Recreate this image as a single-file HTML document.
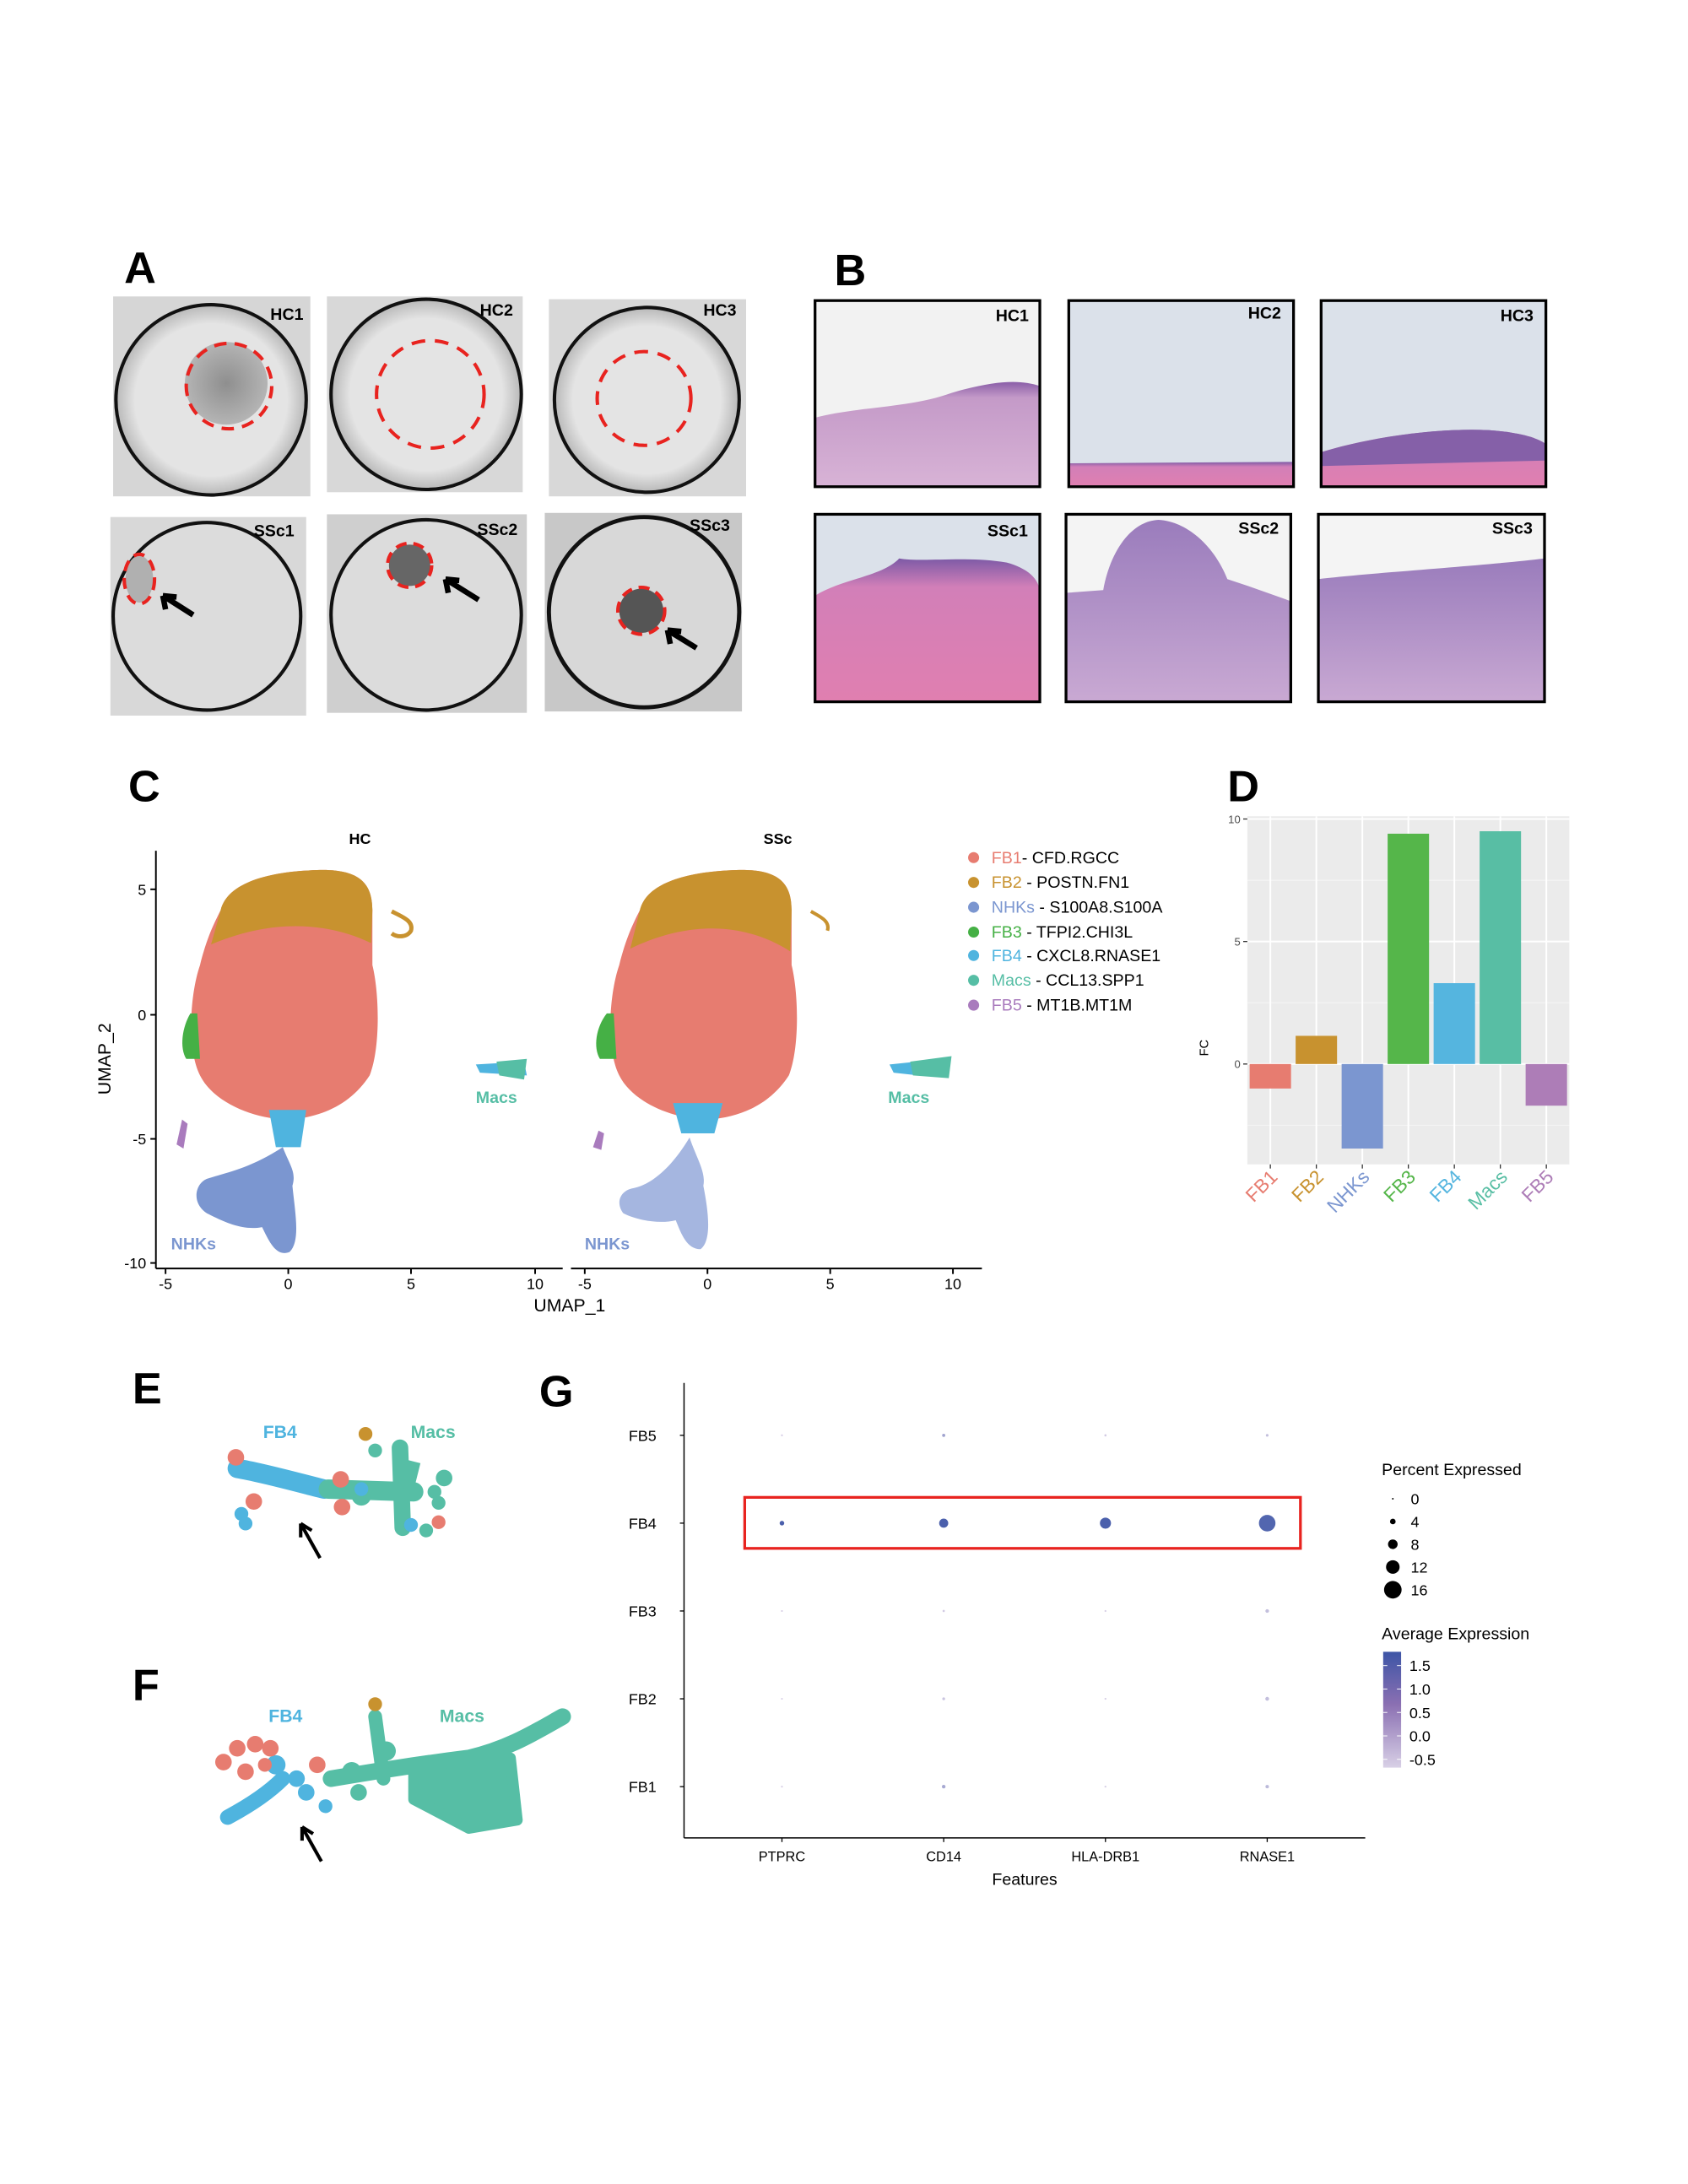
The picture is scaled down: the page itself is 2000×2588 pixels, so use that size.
<!DOCTYPE html>
<html><head><meta charset="utf-8"><style>
html,body{margin:0;padding:0;background:#fff}
svg{display:block;font-family:"Liberation Sans",Arial,sans-serif}
</style></head><body>
<svg id="fig" width="2000" height="2588" viewBox="0 0 1224 1584" xmlns="http://www.w3.org/2000/svg">
<rect width="1224" height="1584" fill="#fff"/>
<defs>
<radialGradient id="well" cx="50%" cy="50%" r="50%"><stop offset="0.8" stop-color="#e4e4e4"/><stop offset="1" stop-color="#b8b8b8"/></radialGradient>
<radialGradient id="spot" cx="50%" cy="50%" r="50%"><stop offset="0" stop-color="#6a6a6a"/><stop offset="1" stop-color="#a0a0a0"/></radialGradient>
<linearGradient id="tissueA" x1="0" y1="0" x2="0" y2="1"><stop offset="0" stop-color="#8a5ea8"/><stop offset="0.15" stop-color="#c49ac8"/><stop offset="1" stop-color="#d8b3d6"/></linearGradient>
<linearGradient id="tissueB" x1="0" y1="0" x2="0" y2="1"><stop offset="0" stop-color="#7d5aa6"/><stop offset="0.2" stop-color="#d27fb8"/><stop offset="1" stop-color="#e07fb0"/></linearGradient>
<linearGradient id="tissueC" x1="0" y1="0" x2="0" y2="1"><stop offset="0" stop-color="#9a7cbc"/><stop offset="1" stop-color="#c9a9d3"/></linearGradient>
<linearGradient id="cbar" x1="0" y1="1" x2="0" y2="0"><stop offset="0" stop-color="#d8d0e6"/><stop offset="0.55" stop-color="#8a6fb2"/><stop offset="1" stop-color="#3d55a6"/></linearGradient>
</defs>

<g font-weight="bold" font-size="32" fill="#000">
<text x="90" y="205">A</text>
<text x="605" y="207">B</text>
<text x="93" y="581">C</text>
<text x="890" y="581">D</text>
<text x="96" y="1018">E</text>
<text x="96" y="1233">F</text>
<text x="391" y="1020">G</text>
</g>

<g>
<g><rect x="82" y="215" width="143" height="145" fill="#d6d6d6"/><circle cx="153" cy="290" r="69" fill="url(#well)" stroke="#111" stroke-width="2.5"/><circle cx="164" cy="278" r="30" fill="url(#spot)" opacity="0.7"/><circle cx="166" cy="280" r="31" fill="none" stroke="#e8231f" stroke-width="2.5" stroke-dasharray="9,6"/><text x="196" y="232" font-size="12" font-weight="bold">HC1</text></g>
<g><rect x="237" y="215" width="142" height="142" fill="#d8d8d8"/><circle cx="309" cy="286" r="69" fill="url(#well)" stroke="#111" stroke-width="2.5"/><circle cx="312" cy="286" r="39" fill="none" stroke="#e8231f" stroke-width="2.5" stroke-dasharray="10,7"/><text x="348" y="229" font-size="12" font-weight="bold">HC2</text></g>
<g><rect x="398" y="217" width="143" height="143" fill="#d8d8d8"/><circle cx="469" cy="290" r="67" fill="url(#well)" stroke="#111" stroke-width="2.5"/><circle cx="467" cy="289" r="34" fill="none" stroke="#e8231f" stroke-width="2.5" stroke-dasharray="10,7"/><text x="510" y="229" font-size="12" font-weight="bold">HC3</text></g>
<g><rect x="80" y="375" width="142" height="144" fill="#d8d8d8"/><circle cx="150" cy="447" r="68" fill="#dcdcdc" stroke="#111" stroke-width="2.5"/><ellipse cx="101" cy="420" rx="10" ry="17" fill="#b0b0b0"/><ellipse cx="101" cy="420" rx="11" ry="18" fill="none" stroke="#e8231f" stroke-width="2.5" stroke-dasharray="8,5"/><path d="M140 446 L118 432 M118 432 l2 10 M118 432 l10 1" stroke="#000" stroke-width="4" fill="none"/><text x="184" y="389" font-size="12" font-weight="bold">SSc1</text></g>
<g><rect x="237" y="373" width="145" height="144" fill="#cfcfcf"/><circle cx="309" cy="446" r="69" fill="#dcdcdc" stroke="#111" stroke-width="2.5"/><circle cx="297" cy="410" r="15" fill="#666"/><circle cx="297" cy="410" r="16" fill="none" stroke="#e8231f" stroke-width="2.5" stroke-dasharray="8,5"/><path d="M347 435 L323 420 M323 420 l2 10 M323 420 l10 1" stroke="#000" stroke-width="4" fill="none"/><text x="346" y="388" font-size="12" font-weight="bold">SSc2</text></g>
<g><rect x="395" y="372" width="143" height="144" fill="#c8c8c8"/><circle cx="467" cy="444" r="69" fill="#d8d8d8" stroke="#111" stroke-width="3"/><circle cx="465" cy="443" r="16" fill="#555"/><circle cx="465" cy="443" r="17" fill="none" stroke="#e8231f" stroke-width="2.5" stroke-dasharray="8,5"/><path d="M505 470 L484 457 M484 457 l2 10 M484 457 l10 1" stroke="#000" stroke-width="4" fill="none"/><text x="500" y="385" font-size="12" font-weight="bold">SSc3</text></g>
</g>

<g>
<g><rect x="591" y="218" width="163" height="135" fill="#f2f2f2"/><path d="M591 303 C620 295,660 296,690 285 C720 276,740 275,754 280 L754 353 L591 353Z" fill="url(#tissueA)"/><rect x="591" y="218" width="163" height="135" fill="none" stroke="#000" stroke-width="2"/><text x="722" y="233" font-size="12" font-weight="bold">HC1</text></g>
<g><rect x="775" y="218" width="163" height="135" fill="#dbe1ea"/><path d="M775 336 L938 335 L938 353 L775 353Z" fill="url(#tissueB)"/><rect x="775" y="218" width="163" height="135" fill="none" stroke="#000" stroke-width="2"/><text x="905" y="231" font-size="12" font-weight="bold">HC2</text></g>
<g><rect x="958" y="218" width="163" height="135" fill="#dbe1ea"/><path d="M958 328 C990 318,1040 310,1080 312 C1105 314,1115 318,1121 322 L1121 353 L958 353Z" fill="url(#tissueB)"/><path d="M958 328 C990 318,1040 310,1080 312 C1105 314,1115 318,1121 322 L1121 334 L958 338Z" fill="#8560a8"/><rect x="958" y="218" width="163" height="135" fill="none" stroke="#000" stroke-width="2"/><text x="1088" y="233" font-size="12" font-weight="bold">HC3</text></g>
<g><rect x="591" y="373" width="163" height="136" fill="#dbe1ea"/><path d="M591 432 C610 420,640 418,652 405 C670 408,700 403,730 408 C745 412,754 420,754 430 L754 509 L591 509Z" fill="url(#tissueB)"/><rect x="591" y="373" width="163" height="136" fill="none" stroke="#000" stroke-width="2"/><text x="716" y="389" font-size="12" font-weight="bold">SSc1</text></g>
<g><rect x="773" y="373" width="163" height="136" fill="#f4f4f4"/><path d="M773 430 L800 428 C805 400,820 378,840 377 C860 378,880 395,890 420 L905 425 L936 436 L936 509 L773 509Z" fill="url(#tissueC)"/><rect x="773" y="373" width="163" height="136" fill="none" stroke="#000" stroke-width="2"/><text x="898" y="387" font-size="12" font-weight="bold">SSc2</text></g>
<g><rect x="956" y="373" width="164" height="136" fill="#f4f4f4"/><path d="M956 420 C1000 415,1080 410,1120 405 L1120 509 L956 509Z" fill="url(#tissueC)"/><rect x="956" y="373" width="164" height="136" fill="none" stroke="#000" stroke-width="2"/><text x="1082" y="387" font-size="12" font-weight="bold">SSc3</text></g>
</g>

<g font-size="11">
<text x="261" y="612" font-size="11" font-weight="bold" text-anchor="middle">HC</text>
<text x="564" y="612" font-size="11" font-weight="bold" text-anchor="middle">SSc</text>
<g>
<path d="M160 660 C165 640,195 632,230 631 C260 630,270 640,270 660 L270 700 C275 720,276 760,268 780 C255 800,235 810,210 812 C185 812,155 800,145 780 C135 760,138 720,145 700 C150 680,155 670,160 660Z" fill="#e77c70"/>
<path d="M160 660 C165 640,195 632,230 631 C260 630,270 640,270 660 L269 684 C240 670,200 665,153 685Z" fill="#c8922f"/>
<path d="M138 735 C132 745,130 760,135 768 L145 768 L143 735Z" fill="#45b045"/>
<path d="M195 805 L222 805 L218 832 L200 832Z" fill="#4fb4df"/>
<path d="M205 832 C210 845,215 850,212 860 C214 880,218 900,210 908 C200 912,195 900,190 890 C175 893,160 885,150 880 C138 872,142 858,150 855 C165 850,180 848,205 832Z" fill="#7b96d0"/>
<path d="M132 812 L128 830 L133 833 L136 815Z" fill="#a97bbd"/>
<path d="M284 661 C292 665,300 668,298 675 C295 680,288 680,284 677" fill="none" stroke="#c8922f" stroke-width="3"/>
<path d="M345 772 L380 770 L382 780 L348 778Z" fill="#4fb4df"/><path d="M360 770 L382 768 L380 783 L362 780Z" fill="#56bea5"/>
<text x="124" y="906" fill="#7b96d0" font-size="12" font-weight="bold">NHKs</text>
<text x="345" y="800" fill="#56bea5" font-size="12" font-weight="bold">Macs</text>
</g>
<g>
<path d="M464 660 C469 640,499 632,534 631 C564 630,574 640,574 660 L574 700 C579 720,580 760,572 780 C559 800,539 810,514 812 C489 812,459 800,449 780 C439 760,442 720,449 700 C454 680,459 670,464 660Z" fill="#e77c70"/>
<path d="M464 660 C469 640,499 632,534 631 C564 630,574 640,574 660 L573 690 C545 672,505 665,457 688Z" fill="#c8922f"/>
<path d="M440 735 C432 745,430 760,435 768 L447 768 L445 735Z" fill="#45b045"/>
<path d="M488 800 L524 800 L518 822 L494 822Z" fill="#4fb4df"/>
<path d="M500 825 C505 840,512 850,510 860 C514 880,516 900,508 906 C498 906,494 895,490 885 C478 888,462 885,452 880 C446 872,450 864,458 862 C470 860,485 850,500 825Z" fill="#a5b6e0"/>
<path d="M434 820 L430 832 L436 834 L438 822Z" fill="#a97bbd"/>
<path d="M588 661 C595 665,602 668,600 675" fill="none" stroke="#c8922f" stroke-width="2.5"/>
<path d="M645 772 L665 770 L666 780 L648 778Z" fill="#4fb4df"/><path d="M660 770 L690 766 L688 782 L662 780Z" fill="#56bea5"/>
<text x="424" y="906" fill="#7b96d0" font-size="12" font-weight="bold">NHKs</text>
<text x="644" y="800" fill="#56bea5" font-size="12" font-weight="bold">Macs</text>
</g>
<g stroke="#000" stroke-width="1.2">
<line x1="113" y1="617" x2="113" y2="920"/><line x1="113" y1="920" x2="408" y2="920"/><line x1="414" y1="920" x2="712" y2="920"/>
<line x1="109" y1="645" x2="113" y2="645"/><line x1="109" y1="736" x2="113" y2="736"/><line x1="109" y1="826" x2="113" y2="826"/><line x1="109" y1="916" x2="113" y2="916"/>
<line x1="120" y1="920" x2="120" y2="924"/><line x1="209" y1="920" x2="209" y2="924"/><line x1="298" y1="920" x2="298" y2="924"/><line x1="388" y1="920" x2="388" y2="924"/>
<line x1="424" y1="920" x2="424" y2="924"/><line x1="513" y1="920" x2="513" y2="924"/><line x1="602" y1="920" x2="602" y2="924"/><line x1="691" y1="920" x2="691" y2="924"/>
</g>
<g font-size="11" fill="#000">
<text x="106" y="649" text-anchor="end">5</text><text x="106" y="740" text-anchor="end">0</text><text x="106" y="830" text-anchor="end">-5</text><text x="106" y="920" text-anchor="end">-10</text>
<g text-anchor="middle"><text x="120" y="935">-5</text><text x="209" y="935">0</text><text x="298" y="935">5</text><text x="388" y="935">10</text><text x="424" y="935">-5</text><text x="513" y="935">0</text><text x="602" y="935">5</text><text x="691" y="935">10</text></g>
</g>
<text x="413" y="951" font-size="13" text-anchor="middle">UMAP_1</text>
<text transform="translate(80,768) rotate(-90)" font-size="13" text-anchor="middle">UMAP_2</text>
<g font-size="12">
<g><circle cx="706" cy="622" r="4" fill="#e77c70"/><text x="719" y="626"><tspan fill="#e77c70">FB1</tspan>- CFD.RGCC</text></g>
<g><circle cx="706" cy="640" r="4" fill="#c8922f"/><text x="719" y="644"><tspan fill="#c8922f">FB2</tspan> - POSTN.FN1</text></g>
<g><circle cx="706" cy="658" r="4" fill="#7b96d0"/><text x="719" y="662"><tspan fill="#7b96d0">NHKs</tspan> - S100A8.S100A</text></g>
<g><circle cx="706" cy="676" r="4" fill="#45b045"/><text x="719" y="680"><tspan fill="#45b045">FB3</tspan> - TFPI2.CHI3L</text></g>
<g><circle cx="706" cy="693" r="4" fill="#4fb4df"/><text x="719" y="697"><tspan fill="#4fb4df">FB4</tspan> - CXCL8.RNASE1</text></g>
<g><circle cx="706" cy="711" r="4" fill="#56bea5"/><text x="719" y="715"><tspan fill="#56bea5">Macs</tspan> - CCL13.SPP1</text></g>
<g><circle cx="706" cy="729" r="4" fill="#a97bbd"/><text x="719" y="733"><tspan fill="#a97bbd">FB5</tspan> - MT1B.MT1M</text></g>
</g>
</g>

<g id="panelD"></g>

<g>
<path d="M172 1065 C190 1068,215 1075,235 1080" stroke="#4fb4df" stroke-width="14" stroke-linecap="round" fill="none"/>
<path d="M238 1080 L300 1082" stroke="#56bea5" stroke-width="14" stroke-linecap="round" fill="none"/>
<path d="M290 1050 L292 1108" stroke="#56bea5" stroke-width="12" stroke-linecap="round" fill="none"/>
<path d="M300 1060 L295 1080" stroke="#56bea5" stroke-width="10" fill="none"/>
<g fill="#56bea5"><circle cx="322" cy="1072" r="6"/><circle cx="315" cy="1082" r="5"/><circle cx="318" cy="1090" r="5"/><circle cx="309" cy="1110" r="5"/><circle cx="272" cy="1052" r="5"/><circle cx="262" cy="1085" r="7"/></g>
<g fill="#e77c70"><circle cx="171" cy="1057" r="6"/><circle cx="184" cy="1089" r="6"/><circle cx="247" cy="1073" r="6"/><circle cx="248" cy="1093" r="6"/><circle cx="318" cy="1104" r="5"/></g>
<g fill="#4fb4df"><circle cx="175" cy="1098" r="5"/><circle cx="178" cy="1105" r="5"/><circle cx="262" cy="1080" r="5"/><circle cx="298" cy="1106" r="5"/></g>
<circle cx="265" cy="1040" r="5" fill="#c8922f"/>
<text x="203" y="1043" font-size="13" font-weight="bold" fill="#4fb4df" text-anchor="middle">FB4</text>
<text x="314" y="1043" font-size="13" font-weight="bold" fill="#56bea5" text-anchor="middle">Macs</text>
<path d="M232 1130 L218 1105 M218 1105 l0 10 M218 1105 l8 5" stroke="#000" stroke-width="2.5" fill="none"/>
</g>

<g>
<path d="M240 1290 C270 1285,300 1280,340 1275 C370 1268,390 1255,408 1245" stroke="#56bea5" stroke-width="12" stroke-linecap="round" fill="none"/>
<path d="M300 1280 L370 1275 L375 1320 L340 1326 L300 1305Z" fill="#56bea5" stroke="#56bea5" stroke-width="8" stroke-linejoin="round"/>
<path d="M272 1245 L278 1290" stroke="#56bea5" stroke-width="10" stroke-linecap="round"/>
<g fill="#56bea5"><circle cx="255" cy="1285" r="7"/><circle cx="280" cy="1270" r="7"/><circle cx="260" cy="1300" r="6"/></g>
<path d="M165 1318 C180 1310,195 1300,205 1290" stroke="#4fb4df" stroke-width="11" stroke-linecap="round" fill="none"/>
<g fill="#4fb4df"><circle cx="200" cy="1280" r="7"/><circle cx="215" cy="1290" r="6"/><circle cx="222" cy="1300" r="6"/><circle cx="236" cy="1310" r="5"/></g>
<g fill="#e77c70"><circle cx="162" cy="1278" r="6"/><circle cx="172" cy="1268" r="6"/><circle cx="185" cy="1265" r="6"/><circle cx="196" cy="1268" r="6"/><circle cx="178" cy="1285" r="6"/><circle cx="192" cy="1280" r="5"/><circle cx="230" cy="1280" r="6"/></g>
<circle cx="272" cy="1236" r="5" fill="#c8922f"/>
<text x="207" y="1249" font-size="13" font-weight="bold" fill="#4fb4df" text-anchor="middle">FB4</text>
<text x="335" y="1249" font-size="13" font-weight="bold" fill="#56bea5" text-anchor="middle">Macs</text>
<path d="M233 1350 L219 1325 M219 1325 l0 10 M219 1325 l8 5" stroke="#000" stroke-width="2.5" fill="none"/>
</g>

<g id="panelG"></g>
</svg>
<script>
const dCategories = ["FB1","FB2","NHKs","FB3","FB4","Macs","FB5"];
const dValues = [-1.0, 1.15, -3.45, 9.4, 3.3, 9.5, -1.7];
const dColors = ["#e77c70","#c8922f","#7b96d0","#55b64a","#55b5df","#58bea4","#ad7db7"];
const dTicks = [0, 5, 10];

const gFeatures = ["PTPRC","CD14","HLA-DRB1","RNASE1"];
const gGroups = ["FB5","FB4","FB3","FB2","FB1"];
const gPct = [
  [0.3, 1.5, 0.5, 1.0],
  [3.0, 7.5, 9.5, 15.0],
  [0.2, 0.6, 0.3, 2.0],
  [0.2, 1.2, 0.3, 2.2],
  [0.2, 2.0, 0.3, 1.8]
];
const gExpr = [
  [-0.5, 0.3, -0.4, -0.2],
  [1.5, 1.5, 1.5, 1.4],
  [-0.5, -0.4, -0.5, -0.2],
  [-0.5, -0.3, -0.5, -0.2],
  [-0.5, 0.2, -0.5, -0.1]
];
const gSizeTicks = [0, 4, 8, 12, 16];
const gColorTicks = [1.5, 1.0, 0.5, 0.0, -0.5];

const NS = "http://www.w3.org/2000/svg";
function mk(tag, attrs, parent) {
  const e = document.createElementNS(NS, tag);
  for (const k in attrs) e.setAttribute(k, attrs[k]);
  parent.appendChild(e);
  return e;
}

(function(){
  const g = document.getElementById("panelD");
  const x0 = 904.5, x1 = 1138, yTop = 592, yBot = 844.5;
  const y = v => 771.7 - v * 17.77;
  const step = (x1 - x0) / dCategories.length;
  const xc = i => x0 + step * (i + 0.5);
  const bg = mk("rect", {x:x0, y:yTop, width:x1-x0, height:yBot-yTop, fill:"#ebebeb"}, g);
  
  
  [-2.5, 2.5, 7.5].forEach(v => mk("line", {x1:x0, x2:x1, y1:y(v), y2:y(v), stroke:"#f6f6f6", "stroke-width":0.6}, g));
  dTicks.forEach(v => mk("line", {x1:x0, x2:x1, y1:y(v), y2:y(v), stroke:"#fff", "stroke-width":1.2}, g));
  dCategories.forEach((c,i) => mk("line", {x1:xc(i), x2:xc(i), y1:yTop, y2:yBot, stroke:"#fff", "stroke-width":1.2}, g));
  dValues.forEach((v,i) => {
    const w = step * 0.9;
    const r = mk("rect", {x:xc(i)-w/2, y:Math.min(y(v), y(0)), width:w, height:Math.abs(y(v)-y(0)), fill:dColors[i]}, g);
    
    
  });
  dTicks.forEach(v => {
    mk("line", {x1:x0-3, x2:x0, y1:y(v), y2:y(v), stroke:"#333", "stroke-width":0.8}, g);
    const t = mk("text", {x:x0-5, y:y(v)+3, "font-size":8, fill:"#4d4d4d", "text-anchor":"end"}, g);
    t.textContent = v;
    
    
  });
  dCategories.forEach((c,i) => {
    mk("line", {x1:xc(i), x2:xc(i), y1:yBot, y2:yBot+3, stroke:"#333", "stroke-width":0.8}, g);
    const t = mk("text", {transform:`translate(${xc(i)+6},${yBot+10}) rotate(-45)`, "font-size":14, fill:dColors[i], "text-anchor":"end"}, g);
    t.textContent = c;
    
    
  });
  const yt = mk("text", {transform:"translate(876,760) rotate(-90)", "font-size":9, "text-anchor":"middle"}, g);
  yt.textContent = "FC";
  
  
})();

(function(){
  const g = document.getElementById("panelG");
  const ax = 496, ayTop = 1003, ayBot = 1333, axRight = 990;
  const colX = i => 567 + i * 117.3;
  const rowY = j => 1041 + j * 63.7;
  const rad = p => 0.6 + p * 0.36;
  const lo = [216,208,230], hi = [61,85,166];
  const col = v => { let t = (v + 0.5) / 2.2; t = Math.max(0, Math.min(1, t));
    return "rgb(" + lo.map((c,k)=>Math.round(c + (hi[k]-c)*t)).join(",") + ")"; };
  mk("line", {x1:ax, x2:ax, y1:ayTop, y2:ayBot, stroke:"#000", "stroke-width":0.9}, g);
  mk("line", {x1:ax, x2:axRight, y1:ayBot, y2:ayBot, stroke:"#000", "stroke-width":0.9}, g);
  gGroups.forEach((grp,j) => {
    mk("line", {x1:ax-3, x2:ax, y1:rowY(j), y2:rowY(j), stroke:"#000", "stroke-width":0.8}, g);
    const t = mk("text", {x:ax-20, y:rowY(j)+4, "font-size":11, "text-anchor":"end"}, g);
    t.textContent = grp;
    
    
  });
  gFeatures.forEach((f,i) => {
    mk("line", {x1:colX(i), x2:colX(i), y1:ayBot, y2:ayBot+3, stroke:"#000", "stroke-width":0.8}, g);
    const t = mk("text", {x:colX(i), y:ayBot+17, "font-size":10, "text-anchor":"middle"}, g);
    t.textContent = f;
    
    
  });
  const xt = mk("text", {x:743, y:1367, "font-size":12, "text-anchor":"middle"}, g);
  xt.textContent = "Features";
  
  
  gGroups.forEach((grp,j) => gFeatures.forEach((f,i) => {
    const c = mk("circle", {cx:colX(i), cy:rowY(j), r:rad(gPct[j][i]), fill:col(gExpr[j][i])}, g);
    
    
  }));
  const box = mk("rect", {x:540, y:1086, width:403, height:37, fill:"none", stroke:"#e8231f", "stroke-width":2}, g);
  
  
  const st = mk("text", {x:1002, y:1070, "font-size":12}, g);
  st.textContent = "Percent Expressed";
  
  
  gSizeTicks.forEach((v,k) => {
    const yy = 1087 + k * 16.5;
    mk("circle", {cx:1010, cy:yy, r:rad(v), fill:"#000"}, g);
    const t = mk("text", {x:1023, y:yy+4, "font-size":11}, g);
    t.textContent = v;
    
    
  });
  const ct = mk("text", {x:1002, y:1189, "font-size":12}, g);
  ct.textContent = "Average Expression";
  
  
  const cb = mk("rect", {x:1003, y:1198, width:13, height:84, fill:"url(#cbar)"}, g);
  
  
  gColorTicks.forEach(v => {
    const yy = 1259 - v * 34;
    mk("line", {x1:1003, x2:1006, y1:yy, y2:yy, stroke:"#fff", "stroke-width":0.6}, g);
    mk("line", {x1:1013, x2:1016, y1:yy, y2:yy, stroke:"#fff", "stroke-width":0.6}, g);
    const t = mk("text", {x:1022, y:yy+4, "font-size":11}, g);
    t.textContent = v.toFixed(1);
    
    
  });
})();
</script>
</body></html>
